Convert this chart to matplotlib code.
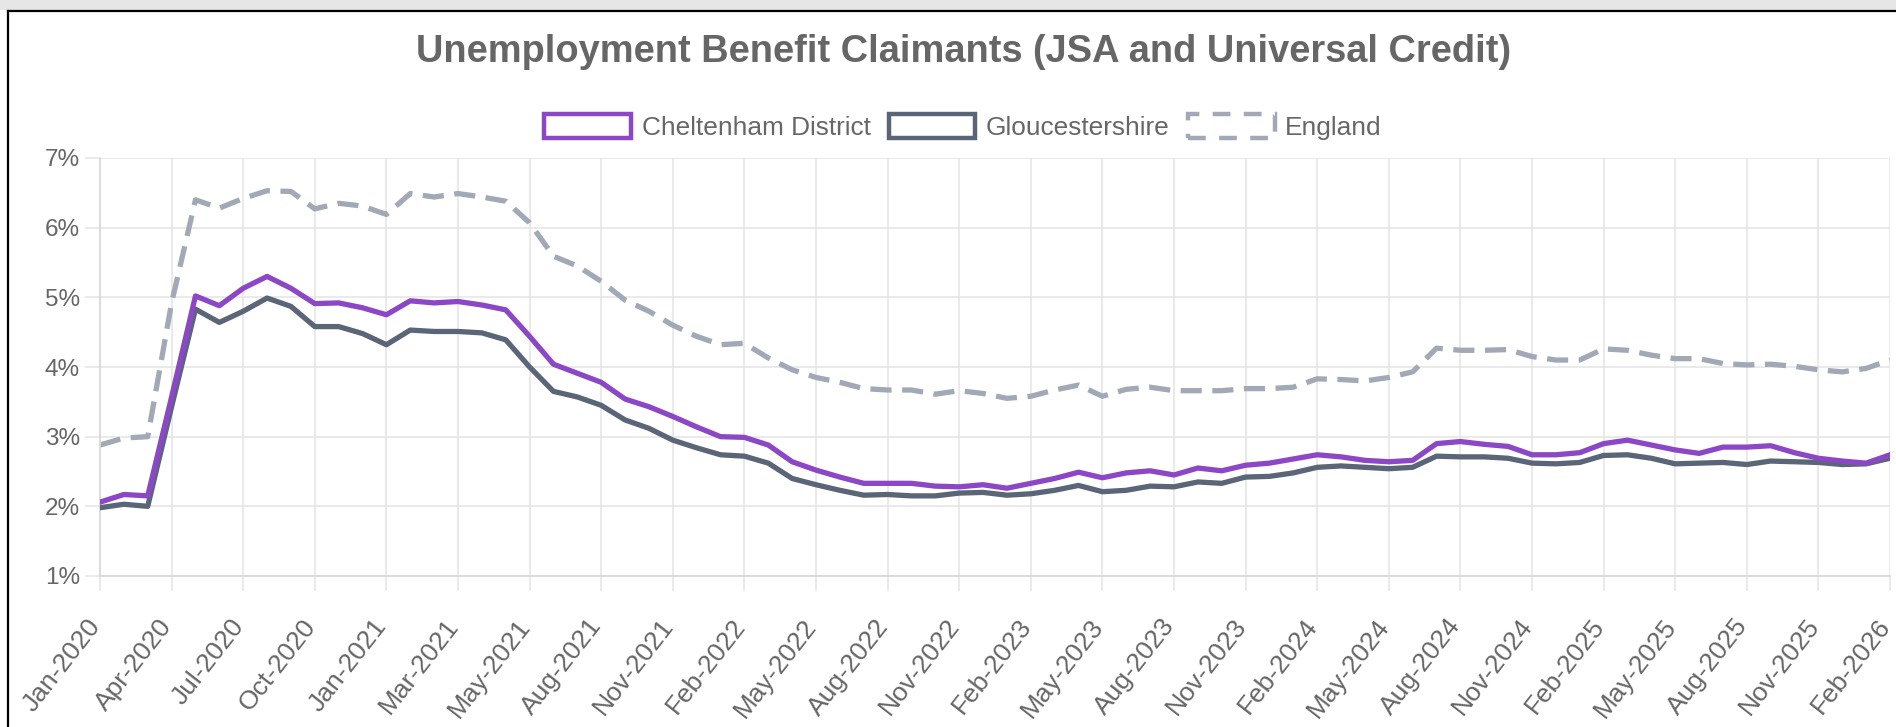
import matplotlib
matplotlib.use("Agg")
import matplotlib.pyplot as plt
import matplotlib.transforms as mtrans
from matplotlib.patches import Patch, Rectangle
from matplotlib.lines import Line2D

plt.rcParams['font.family'] = ['Liberation Sans', 'DejaVu Sans']

# monthly claimant rates (%)
tick_labels = ["Jan-2020", "Apr-2020", "Jul-2020", "Oct-2020", "Jan-2021", "Mar-2021",
               "May-2021", "Aug-2021", "Nov-2021", "Feb-2022", "May-2022", "Aug-2022",
               "Nov-2022", "Feb-2023", "May-2023", "Aug-2023", "Nov-2023", "Feb-2024",
               "May-2024", "Aug-2024", "Nov-2024", "Feb-2025", "May-2025", "Aug-2025",
               "Nov-2025", "Feb-2026"]

cheltenham = [2.06, 2.17, 2.15, 3.57, 5.02, 4.88, 5.13, 5.30, 5.13, 4.91, 4.92, 4.85,
              4.75, 4.95, 4.92, 4.94, 4.89, 4.82, 4.44, 4.04, 3.91, 3.78, 3.54, 3.43,
              3.29, 3.14, 3.00, 2.99, 2.88, 2.64, 2.52, 2.42, 2.33, 2.33, 2.33, 2.29,
              2.28, 2.31, 2.26, 2.33, 2.40, 2.49, 2.41, 2.48, 2.51, 2.45, 2.55, 2.51,
              2.59, 2.62, 2.68, 2.74, 2.71, 2.66, 2.64, 2.66, 2.90, 2.93, 2.89, 2.86,
              2.74, 2.74, 2.77, 2.90, 2.95, 2.88, 2.81, 2.76, 2.85, 2.85, 2.87, 2.77,
              2.69, 2.65, 2.62, 2.74]

gloucestershire = [1.98, 2.03, 2.00, 3.43, 4.83, 4.64, 4.80, 4.99, 4.87, 4.58, 4.58, 4.48,
                   4.32, 4.53, 4.51, 4.51, 4.49, 4.39, 4.00, 3.65, 3.57, 3.45, 3.24, 3.12,
                   2.95, 2.84, 2.74, 2.72, 2.62, 2.40, 2.31, 2.23, 2.16, 2.17, 2.15, 2.15,
                   2.19, 2.20, 2.16, 2.18, 2.23, 2.30, 2.21, 2.23, 2.29, 2.28, 2.35, 2.33,
                   2.42, 2.43, 2.48, 2.56, 2.58, 2.56, 2.54, 2.56, 2.72, 2.71, 2.71, 2.69,
                   2.62, 2.61, 2.63, 2.73, 2.74, 2.69, 2.61, 2.62, 2.63, 2.60, 2.65, 2.64,
                   2.63, 2.60, 2.61, 2.69]

england = [2.88, 2.98, 3.00, 4.92, 6.40, 6.28, 6.42, 6.53, 6.52, 6.27, 6.35, 6.31,
           6.19, 6.49, 6.44, 6.49, 6.44, 6.38, 6.07, 5.59, 5.45, 5.23, 4.96, 4.80,
           4.60, 4.44, 4.32, 4.34, 4.13, 3.96, 3.85, 3.78, 3.69, 3.67, 3.67, 3.61,
           3.66, 3.62, 3.55, 3.58, 3.67, 3.74, 3.58, 3.68, 3.71, 3.66, 3.66, 3.66,
           3.69, 3.69, 3.71, 3.83, 3.82, 3.80, 3.85, 3.93, 4.27, 4.24, 4.24, 4.25,
           4.15, 4.10, 4.10, 4.26, 4.24, 4.17, 4.12, 4.12, 4.05, 4.03, 4.04, 4.01,
           3.96, 3.93, 3.98, 4.10]

purple = '#8c47c6'
slate = '#5b6578'
grey = '#a1a8b6'
text_col = '#666666'
grid_col = '#e4e4e4'

fig = plt.figure(figsize=(18.96, 7.27), dpi=100)
ax = fig.add_axes([100 / 1896, 1 - 576 / 727, 1790 / 1896, 418 / 727])

x = list(range(len(cheltenham)))
ax.plot(x, cheltenham, color=purple, lw=3.8, solid_joinstyle='round', zorder=4)
ax.plot(x, gloucestershire, color=slate, lw=3.8, solid_joinstyle='round', zorder=3)
ax.plot(x, england, color=grey, lw=3.8, linestyle=(0, (4, 2)), zorder=2)

ax.set_xlim(0, len(x) - 1)
ax.set_ylim(1, 7)
ax.set_yticks(range(1, 8))
ax.set_yticklabels([f"{v}%" for v in range(1, 8)])
ax.set_xticks(range(0, len(x), 3))
ax.set_xticklabels(tick_labels, rotation=52, ha='right', va='center',
                   rotation_mode='anchor')

ax.grid(True, color=grid_col, lw=1.1)
ax.set_axisbelow(True)
for side in ['top', 'right']:
    ax.spines[side].set_visible(False)
for side in ['left', 'bottom']:
    ax.spines[side].set_color('#d9d9d9')
    ax.spines[side].set_linewidth(1.3)
ax.tick_params(axis='both', colors=grid_col, length=11, width=1.1, labelcolor=text_col)
ax.tick_params(axis='y', pad=3.5, labelsize=17.5)
ax.tick_params(axis='x', pad=22, labelsize=19)

# rotated labels end just at their tick, as in the original
shift = mtrans.ScaledTranslation(-4 / 100, 0, fig.dpi_scale_trans)
for lab in ax.get_xticklabels():
    lab.set_transform(lab.get_transform() + shift)

fig.text(0.508, 1 - 52 / 727, "Unemployment Benefit Claimants (JSA and Universal Credit)",
         ha='center', va='center', fontsize=27.4, fontweight='bold', color=text_col)

handles = [
    Patch(facecolor='white', edgecolor=purple, linewidth=3.2, label='Cheltenham District'),
    Patch(facecolor='white', edgecolor=slate, linewidth=3.2, label='Gloucestershire'),
    Patch(facecolor='white', edgecolor=grey, linewidth=3.2, linestyle=(0, (4, 3)),
          label='England'),
]
leg = fig.legend(handles=handles, loc='center', bbox_to_anchor=(0.508, 1 - 127 / 727),
                 ncol=3, frameon=False, fontsize=18.9, handlelength=3.3,
                 handleheight=1.0, handletextpad=0.4, columnspacing=0.7)
for t in leg.get_texts():
    t.set_color(text_col)

# page frame around the chart
fig.add_artist(Rectangle((0, 1 - 10 / 727), 1, 10 / 727, transform=fig.transFigure,
                         facecolor='#e6e6e6', edgecolor='none'))
fig.add_artist(Line2D([8 / 1896, 1], [1 - 11 / 727, 1 - 11 / 727], transform=fig.transFigure,
                      color='black', lw=1.6))
fig.add_artist(Line2D([8 / 1896, 8 / 1896], [0, 1 - 11 / 727], transform=fig.transFigure,
                      color='black', lw=1.6))

fig.savefig('out.png', dpi=100)
